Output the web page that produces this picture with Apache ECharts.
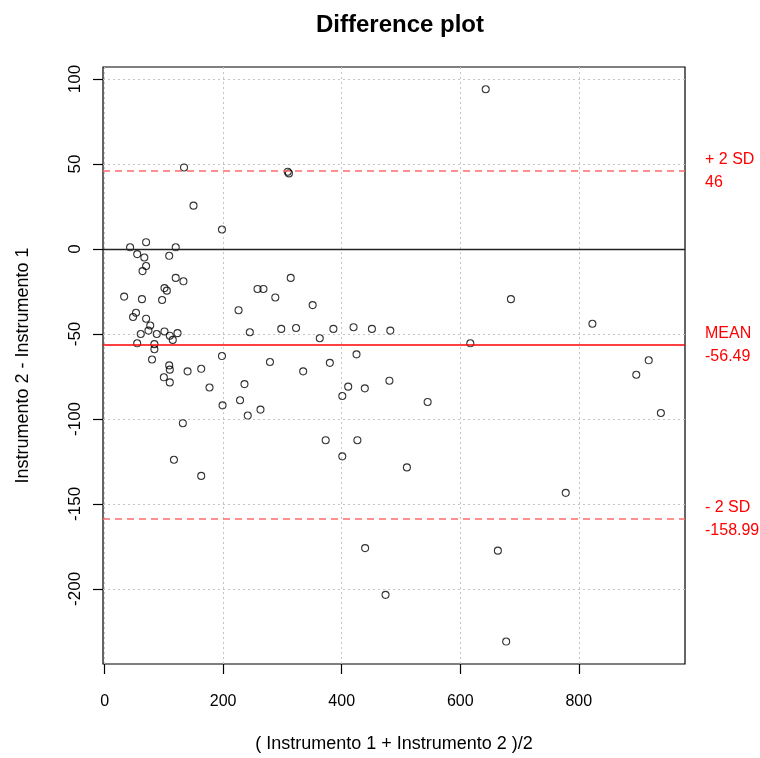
<!DOCTYPE html>
<html><head><meta charset="utf-8">
<script src="https://cdn.jsdelivr.net/npm/echarts@6/dist/echarts.min.js"></script>
<style>html,body{margin:0;padding:0;background:#fff}#c{width:760px;height:758px}</style>
</head><body><div id="c"></div>
<script>
// Averages ((Instrumento 1 + Instrumento 2)/2)
const meanX = [43,70,120,55,67,109,70,64,120,133,101,105,33,63,97,53,48,70,77,74,61,88,101,110,123,115,55,84,84,
  80,109,110,100,110,140,163,177,198,199,132,117,163,134,150,198,309,311,314,258,268,288,226,351,245,298,323,363,386,
  420,451,482,279,335,380,425,236,228.5,241.5,263,411,439,401,480.5,545,373,426.5,401,510,617,439.5,663.5,474,643,
  685.5,823,918,897,938.5,778,677.5];
// Differences (Instrumento 2 - Instrumento 1)
const diffY = [1,4,1,-3,-5,-4,-10,-13,-17,-19,-23,-24.5,-28,-29.5,-30,-37.5,-40,-41,-45,-48,-50,-50,-48.5,-51,-49.5,-53.5,-55.5,-56,-59,
  -65,-68.5,-71,-75.5,-78.5,-72,-70.5,-81.5,-63,-92,-102.5,-124,-133.5,48,25.5,11.5,45.5,44.5,-17,-23.5,-23.5,-28.5,-36,-33,-49,-47,-46.5,-52.5,-47,
  -46,-47,-48,-66.5,-72,-67,-62,-79.5,-89,-98,-94.5,-81,-82,-86.5,-77.5,-90,-112.5,-112.5,-122,-128.5,-55.5,-176,-177.5,-203.5,94,
  -29.5,-44,-65.5,-74,-96.5,-143.5,-231];
const xTicks = [0,200,400,600,800];
const yTicks = [-200,-150,-100,-50,0,50,100];
const refNames = ['+ 2 SD','MEAN','- 2 SD'];
const refValues = [46,-56.49,-158.99];
const refLabels = ['46','-56.49','-158.99'];

const FONT = 'Liberation Sans, Arial, sans-serif';
const chart = echarts.init(document.getElementById('c'), null, {renderer:'canvas'});
const pts = meanX.map((x,i)=>[x, diffY[i]]);
const refLines = refValues.map((v,i)=>({
  yAxis: v,
  lineStyle: i===1 ? {color:'#ff0000', width:1.5, type:'solid'} : {color:'#ff6b6b', width:1.5, type:[7,5]},
  label: {show:true, formatter: refNames[i] + '\n' + refLabels[i]}
}));
refLines.push({yAxis:0, lineStyle:{color:'#222', width:1.3, type:'solid'}, label:{show:false}});

chart.setOption({
  animation:false,
  backgroundColor:'#fff',
  title:{text:'Difference plot', left:395, top:8, textAlign:'center',
    textStyle:{fontFamily:FONT, fontWeight:'bold', fontSize:24, color:'#000'}},
  grid:{left:103, top:67, width:582, height:598, show:true, borderColor:'#000', borderWidth:1.2, backgroundColor:'transparent'},
  xAxis:{type:'value', min:-2.7, max:979.2,
    name:'( Instrumento 1 + Instrumento 2 )/2', nameLocation:'middle', nameGap:71,
    nameTextStyle:{fontFamily:FONT, fontSize:18, color:'#000'},
    axisLine:{show:false, onZero:false},
    axisTick:{show:true, customValues:xTicks, length:10, inside:false, lineStyle:{color:'#000', width:1.2}},
    axisLabel:{customValues:xTicks, fontFamily:FONT, fontSize:16, color:'#000', margin:30},
    splitLine:{show:true, lineStyle:{color:'#c4c4c4', type:[2,3], width:1}}
  },
  yAxis:{type:'value', min:-244.2, max:107.1,
    name:'Instrumento 2 - Instrumento 1', nameLocation:'middle', nameGap:71,
    nameTextStyle:{fontFamily:FONT, fontSize:18, color:'#000'},
    axisLine:{show:false, onZero:false},
    axisTick:{show:true, customValues:yTicks, length:10, inside:false, lineStyle:{color:'#000', width:1.2}},
    axisLabel:{customValues:yTicks, rotate:90, fontFamily:FONT, fontSize:17, color:'#000', margin:19},
    splitLine:{show:true, lineStyle:{color:'#c4c4c4', type:[2,3], width:1}}
  },
  series:[{
    type:'scatter', data:pts, symbol:'circle', symbolSize:7, silent:true,
    itemStyle:{color:'rgba(0,0,0,0)', borderColor:'#000', borderWidth:1.1},
    markLine:{silent:true, symbol:['none','none'], animation:false,
      label:{position:'end', color:'#ff0000', fontFamily:FONT, fontSize:16, lineHeight:23, distance:20, align:'left'},
      data: refLines}
  }]
});
</script></body></html>
